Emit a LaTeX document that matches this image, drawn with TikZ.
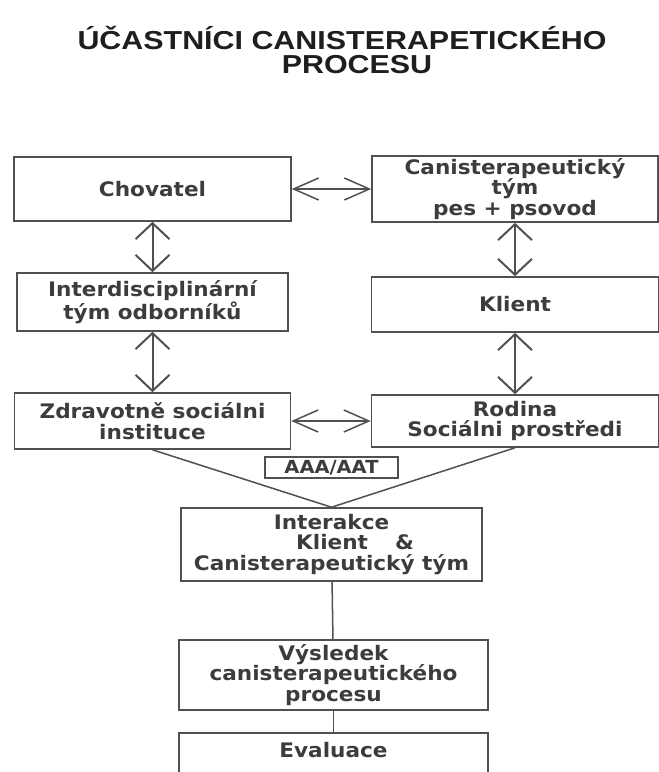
\documentclass[tikz,border=0pt]{standalone}
\usepackage{fontspec}
\usepackage{tikz}
\usetikzlibrary{arrows.meta}
\newfontfamily\bodyfont[FakeStretch=1.08]{DejaVu Sans}
\newfontfamily\titlefont[FakeStretch=1.17]{Liberation Sans}
\newcommand\bodytext{\bodyfont\bfseries\fontsize{20}{20.5}\selectfont}
\newcommand\smalltext{\bodyfont\bfseries\fontsize{18}{18}\selectfont}
\newcommand\titletext{\titlefont\bfseries\fontsize{26}{24}\selectfont}
\definecolor{linegray}{HTML}{505050}
\definecolor{txtgray}{HTML}{3C3C3C}
\definecolor{titlegray}{HTML}{1E1E1E}
\tikzstyle{box} = [rectangle, draw=linegray, line width=1.6pt, text=txtgray, font=\bodytext, align=center, inner sep=0pt]
\tikzstyle{tag} = [rectangle, draw=linegray, line width=1.4pt, text=txtgray, font=\smalltext, inner sep=0pt, minimum width=133pt, minimum height=21pt]
\tikzstyle{heading} = [text=titlegray, font=\titletext, align=center, inner sep=0pt]
\tikzstyle{harrow} = [line width=1.5pt, draw=linegray, <->, >={Straight Barb[length=25pt,width=22pt]}]
\tikzstyle{varrow} = [line width=2pt, draw=linegray, <->, >={Straight Barb[length=16pt,width=34pt]}]
\tikzstyle{line} = [line width=1.5pt, draw=linegray]

\begin{document}
\begin{tikzpicture}[node distance=118pt]

\useasboundingbox (0,0) rectangle (659pt,-772pt);
\clip (0,0) rectangle (659pt,-772pt);

\node (title) [heading] at (342pt,-50pt) {ÚČASTNÍCI CANISTERAPETICKÉHO\\\hspace*{30pt}PROCESU};

\node (chov) [box, minimum width=277pt, minimum height=64pt] at (152.5pt,-189pt) {Chovatel};
\node (inter) [box, below of=chov, yshift=5pt, minimum width=271pt, minimum height=58pt] {Interdisciplinární\\tým odborníků};
\node (zdrav) [box, below of=inter, yshift=-1pt, minimum width=276pt, minimum height=56pt] {Zdravotně sociálni\\instituce};
\node (canis) [box, right of=chov, xshift=244.5pt, minimum width=286pt, minimum height=66pt] {Canisterapeutický\\tým\\pes + psovod};
\node (klient) [box, below of=canis, yshift=2.5pt, minimum width=287pt, minimum height=55pt] {Klient};
\node (rodina) [box, below of=klient, yshift=1.5pt, minimum width=287pt, minimum height=52pt] {Rodina\\Sociálni prostředi};
\node (aaa) [tag, right of=zdrav, xshift=61pt, yshift=-46.5pt] {AAA/AAT};
\node (interakce) [box, below of=aaa, yshift=41pt, minimum width=301pt, minimum height=73pt] {Interakce\\\hspace*{47pt}Klient\hspace*{27pt}\&\\Canisterapeutický tým};
\node (vysledek) [box, below of=interakce, xshift=2pt, yshift=-12.5pt, minimum width=309pt, minimum height=70pt] {Výsledek\\canisterapeutického\\procesu};
\node (eval) [box, below of=vysledek, yshift=29pt, minimum width=309pt, inner ysep=8pt, text height=16pt, text depth=30pt] {Evaluace};

\draw [harrow] (chov) -- (canis);
\draw [varrow] (chov) -- (inter);
\draw [varrow] (canis) -- (klient);
\draw [varrow] (inter) -- (zdrav);
\draw [varrow] (klient) -- (rodina);
\draw [harrow] (zdrav) -- (rodina);
\draw [line] (zdrav.south) -- (interakce.north);
\draw [line] (rodina.south) -- (interakce.north);
\draw [line] (interakce) -- (vysledek);
\draw [line] (vysledek) -- (eval);

\end{tikzpicture}
\end{document}
